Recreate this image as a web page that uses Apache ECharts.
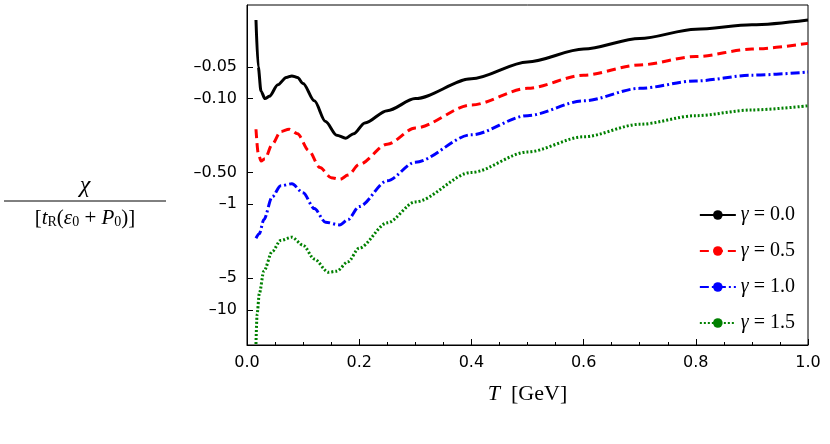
<!DOCTYPE html>
<html><head><meta charset="utf-8">
<script src="https://cdn.jsdelivr.net/npm/echarts@6/dist/echarts.min.js"></script>
<style>body{margin:0;background:#fff}#main{width:830px;height:444px}</style>
</head><body><div id="main"></div>
<script>
// values are |chi| (plotted on an inverted log axis, labelled negative)
var gammaNames = ['γ = 0.0', 'γ = 0.5', 'γ = 1.0', 'γ = 1.5'];
var yTicks = [0.05, 0.1, 0.5, 1, 5, 10];
var g00 = [[0.016,0.018],[0.02,0.05],[0.025,0.085],[0.032,0.100],[0.04,0.095],[0.055,0.074],[0.07,0.063],[0.08,0.061],[0.09,0.063],[0.1,0.072],[0.12,0.105],[0.14,0.165],[0.16,0.222],[0.176,0.237],[0.19,0.215],[0.21,0.17],[0.25,0.13],[0.3,0.1],[0.4,0.065],[0.5,0.045],[0.6,0.034],[0.7,0.027],[0.8,0.022],[0.9,0.02],[1.0,0.018]];
var g05 = [[0.016,0.195],[0.02,0.33],[0.025,0.39],[0.032,0.37],[0.045,0.27],[0.06,0.205],[0.075,0.195],[0.09,0.215],[0.11,0.31],[0.13,0.45],[0.15,0.56],[0.166,0.58],[0.18,0.53],[0.2,0.42],[0.25,0.27],[0.3,0.19],[0.4,0.115],[0.5,0.08],[0.6,0.06],[0.7,0.048],[0.8,0.04],[0.9,0.034],[1.0,0.030]];
var g10 = [[0.016,2.1],[0.022,1.9],[0.03,1.4],[0.045,0.85],[0.06,0.67],[0.08,0.64],[0.1,0.78],[0.12,1.1],[0.14,1.48],[0.165,1.57],[0.18,1.4],[0.2,1.05],[0.25,0.6],[0.3,0.4],[0.4,0.22],[0.5,0.145],[0.6,0.105],[0.7,0.08],[0.8,0.068],[0.9,0.06],[1.0,0.056]];
var g15 = [[0.016,21],[0.018,11],[0.022,7],[0.03,4.3],[0.045,2.8],[0.06,2.2],[0.08,2.05],[0.1,2.45],[0.12,3.3],[0.145,4.4],[0.16,4.3],[0.18,3.5],[0.2,2.6],[0.25,1.5],[0.3,0.95],[0.4,0.5],[0.5,0.32],[0.6,0.23],[0.7,0.175],[0.8,0.145],[0.9,0.128],[1.0,0.117]];

var myChart = echarts.init(document.getElementById('main'));
var colors = ['#000000', '#ff0000', '#0000ff', '#008000'];
var types = ['solid', [9, 5], [9, 3, 2, 3], [2, 2]];
var sets = [g00, g05, g10, g15];
var series = sets.map(function (d, i) {
	return {
		name: gammaNames[i], type: 'line', data: d, smooth: 0.3, smoothMonotone: 'x',
		symbol: 'none', showSymbol: false,
		lineStyle: { color: colors[i], width: 3, type: types[i] }, itemStyle: { color: colors[i] }
	};
});
var option = {
	animation: false,
	grid: { left: 247, right: 22, top: 5, bottom: 99, show: true, borderColor: '#000', borderWidth: 1 },
	legend: {
		orient: 'vertical', right: 30, top: 200, itemGap: 16, itemWidth: 36, itemHeight: 12,
		data: gammaNames,
		formatter: function (n) { return '{i|γ}' + n.slice(1); },
		textStyle: { fontFamily: 'Liberation Serif', fontSize: 20, color: '#000', rich: { i: { fontStyle: 'italic', fontFamily: 'Liberation Serif', fontSize: 20 } } }
	},
	xAxis: {
		type: 'value', min: 0, max: 1, interval: 0.2,
		name: '{i|T}  [GeV]', nameLocation: 'middle', nameGap: 38,
		nameTextStyle: { fontFamily: 'Liberation Serif', fontSize: 22, color: '#000', rich: { i: { fontStyle: 'italic', fontFamily: 'Liberation Serif', fontSize: 22 } } },
		axisLine: { lineStyle: { color: '#000' } },
		axisTick: { inside: true, length: 6, lineStyle: { color: '#000' } },
		minorTick: { show: true, splitNumber: 4, length: 3 },
		splitLine: { show: false },
		axisLabel: { color: '#000', fontSize: 16, fontFamily: 'DejaVu Sans', margin: 10, formatter: function (v) { return v.toFixed(1); } }
	},
	yAxis: {
		type: 'log', inverse: true, min: 0.013, max: 21.5,
		axisLine: { lineStyle: { color: '#000' } },
		axisTick: { inside: true, length: 6, customValues: yTicks, lineStyle: { color: '#000' } },
		splitLine: { show: false },
		axisLabel: {
			color: '#000', fontSize: 16, fontFamily: 'DejaVu Sans', customValues: yTicks, margin: 10,
			formatter: function (v) { return '\u2013' + (v < 1 ? v.toFixed(2) : String(Math.round(v))); }
		}
	},
	graphic: [
		{ type: 'text', x: 85, y: 186, style: { text: 'χ', font: 'italic 24px Liberation Serif', fill: '#000', align: 'center', verticalAlign: 'middle' } },
		{ type: 'line', shape: { x1: 4, y1: 201, x2: 166, y2: 201 }, style: { stroke: '#000', lineWidth: 1 } },
		{ type: 'text', x: 85, y: 218, style: {
			text: '[{i|t}{s|R}({i|ε}{s|0} + {i|P}{s|0})]', font: '21px Liberation Serif', fill: '#000', align: 'center', verticalAlign: 'middle',
			rich: { i: { fontStyle: 'italic', fontSize: 21, fontFamily: 'Liberation Serif' }, s: { fontSize: 14, fontFamily: 'Liberation Serif', verticalAlign: 'bottom', padding: [9, 0, 0, 0] } }
		} }
	],
	series: series
};
myChart.setOption(option);
</script></body></html>
